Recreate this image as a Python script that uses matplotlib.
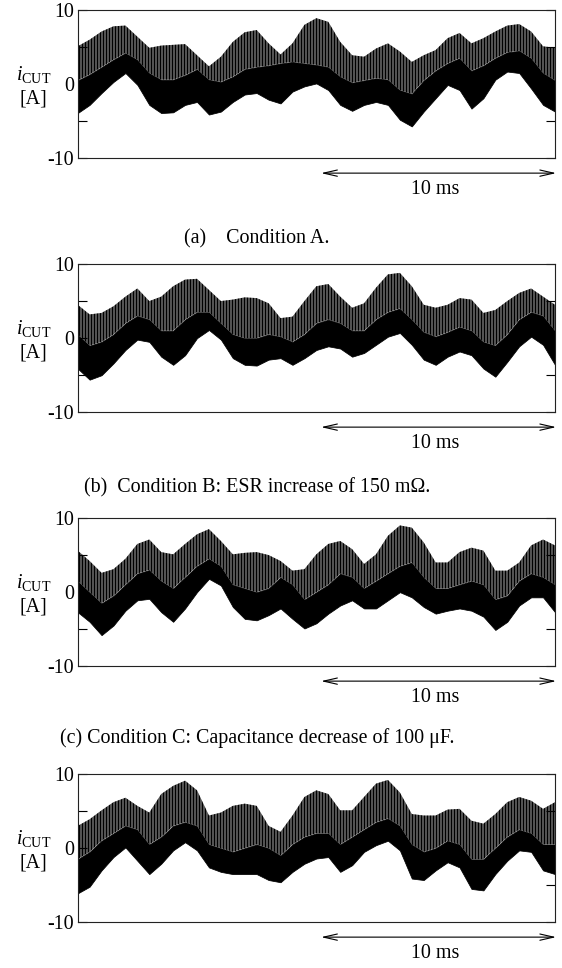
"""Cut-off current i_CUT waveforms under four capacitor conditions (A-D).

Each panel is drawn from three envelopes read off the measured trace:
the lower envelope, the top of the dense band, and the ripple peaks.
"""
import matplotlib.pyplot as plt
import numpy as np
from matplotlib.ticker import FixedLocator, FixedFormatter

plt.rcParams["font.family"] = ["Liberation Serif", "DejaVu Serif"]
plt.rcParams["mathtext.fontset"] = "custom"
plt.rcParams["mathtext.rm"] = "Liberation Serif"
plt.rcParams["mathtext.it"] = "Liberation Serif:italic"
plt.rcParams["axes.unicode_minus"] = False
plt.rcParams["hatch.linewidth"] = 1.6

# time base of the envelope samples [ms]
T_END = 20.3
t_ms = np.linspace(0.0, T_END, 41)

# condition A
upper_a = [5.1, 6.0, 7.1, 7.8, 7.9, 6.4, 4.9, 5.2, 5.3, 5.4, 3.9, 2.4, 3.7, 5.7, 7.0, 7.3, 5.5, 4.0, 5.5, 8.0, 8.9,
           8.4, 5.7, 3.9, 3.7, 4.8, 5.5, 4.4, 3.0, 3.9, 4.6, 6.2, 6.9, 5.5, 6.2, 7.1, 7.9, 8.1, 7.1, 5.1, 4.9]
mid_a = [0.5, 1.3, 2.3, 3.3, 4.2, 3.3, 1.5, 0.6, 0.6, 1.2, 2.0, 0.6, 0.3, 1.0, 2.0, 2.3, 2.5, 2.8, 3.0, 2.8, 2.6,
         2.3, 1.0, 0.2, 0.5, 0.8, 0.6, -0.8, -1.3, 0.5, 1.8, 2.8, 3.5, 1.8, 2.5, 3.5, 4.3, 4.5, 3.5, 1.5, 0.5]
lower_a = [-3.9, -2.8, -1.2, 0.3, 1.5, -0.1, -2.8, -3.9, -3.8, -2.8, -2.4, -4.1, -3.7, -2.4, -1.4, -1.2, -2.1, -2.6,
           -1.0, -0.3, 0.1, -0.8, -2.8, -3.6, -2.8, -2.4, -2.8, -4.8, -5.7, -3.7, -1.9, -0.1, -0.8, -3.3, -1.9, 0.6,
           1.7, 1.5, -0.6, -2.8, -3.7]

# condition B: ESR +150 mOhm
upper_b = [4.5, 3.2, 3.4, 4.3, 5.6, 6.7, 5.0, 5.6, 7.0, 7.9, 8.0, 6.5, 5.0, 5.2, 5.5, 5.4, 4.7, 2.7, 2.9, 5.0, 7.0,
           7.3, 5.6, 4.1, 4.7, 6.8, 8.6, 8.8, 7.0, 4.5, 4.1, 4.5, 5.4, 5.2, 3.4, 3.8, 5.0, 6.1, 6.7, 5.6, 4.5]
mid_b = [0.5, -1.0, -0.5, 0.5, 2.0, 3.0, 2.5, 1.0, 1.0, 2.5, 3.5, 3.5, 2.0, 0.5, 0.0, 0.0, 0.5, 0.2, -0.5, 0.5, 2.0,
         2.5, 2.0, 1.0, 1.0, 2.5, 3.5, 4.0, 2.5, 0.8, 0.2, 0.8, 1.5, 1.0, -0.5, -1.0, 0.5, 2.5, 3.5, 3.0, 1.0]
lower_b = [-4.1, -5.6, -5.0, -3.4, -1.6, -0.2, -0.5, -2.5, -3.6, -2.3, 0.0, 1.1, -0.2, -2.7, -3.6, -3.7, -2.9, -2.7,
           -3.6, -2.7, -1.6, -1.1, -1.4, -2.5, -2.0, -0.9, 0.2, 0.7, -0.9, -2.9, -3.6, -2.5, -1.8, -2.3, -4.1, -5.2,
           -3.2, -1.1, 0.2, -0.9, -3.6]

# condition C: capacitance -100 uF
upper_c = [5.6, 4.2, 2.6, 3.1, 4.5, 6.5, 7.1, 5.4, 5.1, 6.5, 7.8, 8.5, 6.9, 5.1, 5.3, 5.4, 5.0, 4.2, 2.9, 3.1, 5.1,
           6.5, 6.9, 5.8, 3.8, 5.1, 7.6, 9.0, 8.7, 6.7, 4.0, 4.0, 5.4, 6.0, 5.6, 2.9, 2.9, 4.0, 6.3, 7.1, 6.3]
mid_c = [1.5, 0.0, -1.5, -0.5, 1.0, 2.5, 3.0, 1.5, 0.5, 2.0, 3.5, 4.5, 3.5, 1.0, 0.5, 0.0, 0.5, 2.0, 1.0, -1.0, 0.0,
         1.0, 2.5, 2.0, 0.5, 1.5, 2.5, 3.5, 4.0, 2.0, 0.5, 0.5, 1.0, 1.5, 1.0, -1.0, -0.5, 1.5, 2.5, 2.0, 1.0]
lower_c = [-2.7, -4.0, -5.8, -4.5, -2.5, -1.1, -0.9, -2.7, -4.0, -2.2, 0.0, 1.8, 0.9, -2.0, -3.6, -3.8, -3.1, -2.2,
           -3.6, -4.9, -4.2, -2.9, -1.8, -1.1, -2.2, -2.2, -1.1, 0.0, -0.7, -2.0, -2.9, -2.5, -2.2, -2.5, -3.3, -5.1,
           -4.0, -1.8, -0.7, -0.7, -2.7]

# condition D
upper_d = [3.0, 3.9, 5.1, 6.2, 6.8, 5.7, 4.8, 7.3, 8.4, 9.1, 7.8, 4.4, 4.8, 5.7, 6.0, 5.7, 3.0, 2.2, 4.4, 6.9, 7.8,
           7.3, 5.1, 5.1, 6.9, 8.7, 9.2, 7.5, 4.6, 4.4, 4.4, 5.2, 5.3, 3.7, 3.3, 4.6, 6.2, 6.9, 6.4, 5.3, 6.2]
mid_d = [-1.5, -0.5, 1.0, 2.0, 3.0, 2.5, 0.5, 1.5, 3.0, 3.5, 3.0, 0.5, 0.0, -0.5, 0.0, 0.5, 0.0, -1.0, 0.5, 1.5, 2.0,
         2.0, 0.5, 1.5, 2.5, 3.5, 4.0, 3.0, 0.5, -0.5, 0.0, 1.0, 0.5, -1.5, -1.5, 0.0, 1.5, 2.5, 2.0, 0.5, 0.5]
lower_d = [-6.1, -5.2, -3.0, -1.2, 0.1, -1.7, -3.5, -2.1, -0.3, 0.8, -0.3, -2.6, -3.2, -3.5, -3.5, -3.5, -4.3, -4.6,
           -3.2, -2.1, -1.4, -1.2, -3.2, -2.3, -0.5, 0.4, 1.0, -0.3, -4.1, -4.3, -3.0, -1.9, -2.6, -5.5, -5.7, -3.5,
           -1.7, -0.3, -0.5, -3.0, -3.5]

captions = ["(a)    Condition A.",
            "(b)  Condition B: ESR increase of 150 m\u03a9.",
            "(c) Condition C: Capacitance decrease of 100 \u03bcF.",
            None]
y_ticks = [-10, -5, 0, 5, 10]
y_tick_labels = ["-10", "", "0", "", "10"]
SCALE_MS = 10.0

DPI = 90
W, H = 562, 968
FS = 16

panels = [(upper_a, mid_a, lower_a), (upper_b, mid_b, lower_b),
          (upper_c, mid_c, lower_c), (upper_d, mid_d, lower_d)]
ax_tops = [10, 264, 518, 774]      # pixel rows of the top spines
ax_h = 148.3
ax_left, ax_right = 77.7, 555.0
caption_y = [239, 488, 738]

fig = plt.figure(figsize=(W / DPI, H / DPI), dpi=DPI)
for i, (up, mid, lo) in enumerate(panels):
    top = ax_tops[i]
    ax = fig.add_axes([ax_left / W, 1 - (top + ax_h) / H, (ax_right - ax_left) / W, ax_h / H])
    ax.fill_between(t_ms, lo, mid, facecolor="black", edgecolor="black", linewidth=0.6)
    ripple = ax.fill_between(t_ms, mid, up, facecolor="#a8a8a8", edgecolor="black", hatch="|||||", linewidth=0)
    if hasattr(ripple, "set_hatch_linewidth"):
        ripple.set_hatch_linewidth(1.6)
    ax.set_xlim(0, T_END)
    ax.set_ylim(-10, 10)
    ax.set_xticks([])
    ax.yaxis.set_major_locator(FixedLocator(y_ticks))
    ax.yaxis.set_major_formatter(FixedFormatter(y_tick_labels))
    ax.tick_params(axis="y", direction="in", length=7, width=0.9, labelsize=FS, pad=3,
                   left=True, right=True)
    for sp in ax.spines.values():
        sp.set_linewidth(0.9)
        sp.set_color("#222222")

    ax.text(-0.092, 0.565, r"$i_{\mathrm{CUT}}$", transform=ax.transAxes, ha="center", va="center", fontsize=FS)
    ax.text(-0.092, 0.40, "[A]", transform=ax.transAxes, ha="center", va="center", fontsize=FS)

    # 10 ms scale bar under the right half
    trans = ax.get_xaxis_transform()
    ax.annotate("", xy=(T_END + 0.05 - SCALE_MS, -0.10), xytext=(T_END + 0.05, -0.10), xycoords=trans,
                textcoords=trans, annotation_clip=False,
                arrowprops=dict(arrowstyle="<->,head_length=1.1,head_width=0.25", lw=0.9, color="black",
                                shrinkA=0, shrinkB=0))
    ax.text(T_END - SCALE_MS / 2 - 0.1, -0.21, f"{SCALE_MS:.0f} ms", transform=trans, ha="center", va="center",
            fontsize=FS)

    if captions[i]:
        fig.text(257 / W, 1 - caption_y[i] / H, captions[i], ha="center", va="center", fontsize=FS)

fig.savefig("out.png", dpi=DPI)
